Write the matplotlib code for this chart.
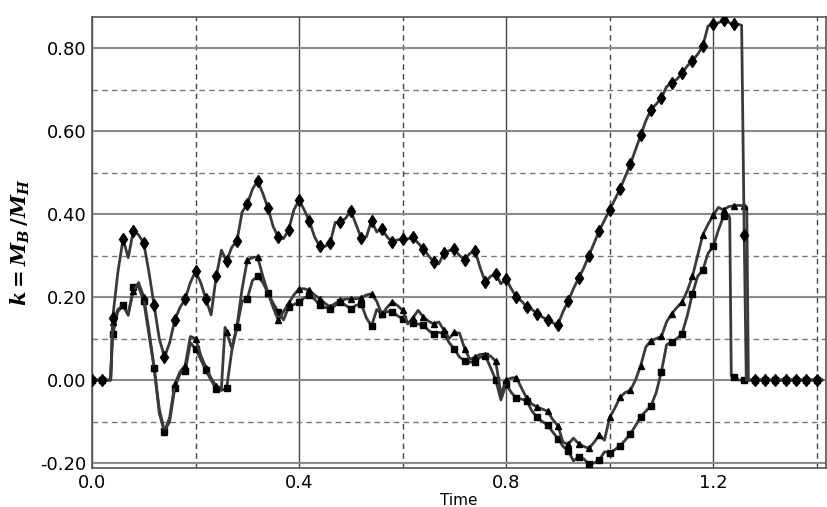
import numpy as np
import matplotlib
matplotlib.use("Agg")
import matplotlib.pyplot as plt
from matplotlib.ticker import MultipleLocator, FormatStrFormatter

# ----------------------------
# Data (time, k)
# ----------------------------

t_grid = [round(0.01 * i, 2) for i in range(142)]

# diamond series (top curve)
dia_t = t_grid[:4] + [0.036] + t_grid[4:126] + [1.255, 1.26, 1.264] + t_grid[127:]
dia_k = [0, 0, 0, 0, 0,
         0.15, 0.26, 0.34, 0.295, 0.36, 0.35, 0.33, 0.26, 0.18, 0.10,
         0.055, 0.09, 0.145, 0.175, 0.195, 0.235, 0.262, 0.235, 0.195, 0.157,
         0.25, 0.313, 0.287, 0.32, 0.335, 0.405, 0.424, 0.46, 0.48, 0.45,
         0.414, 0.37, 0.344, 0.341, 0.362, 0.41, 0.434, 0.41, 0.383, 0.345,
         0.322, 0.322, 0.33, 0.38, 0.38, 0.39, 0.408, 0.375, 0.343, 0.345,
         0.384, 0.357, 0.365, 0.345, 0.333, 0.338, 0.339, 0.34, 0.344, 0.33,
         0.317, 0.30, 0.285, 0.28, 0.306, 0.312, 0.315, 0.30, 0.29, 0.305,
         0.312, 0.27, 0.236, 0.25, 0.255, 0.232, 0.244, 0.22, 0.20, 0.19,
         0.176, 0.17, 0.16, 0.152, 0.144, 0.138, 0.133, 0.165, 0.19, 0.22,
         0.245, 0.27, 0.30, 0.33, 0.36, 0.385, 0.41, 0.435, 0.46, 0.49,
         0.52, 0.555, 0.59, 0.625, 0.652, 0.665, 0.68, 0.707, 0.716, 0.725,
         0.74, 0.757, 0.77, 0.785, 0.805, 0.853, 0.857, 0.861, 0.867, 0.862,
         0.857, 0.857,
         0.855, 0.35, 0.0] + [0] * 15

# triangle series
tri_t = t_grid[:4] + [0.036] + t_grid[4:26] + [0.257] + t_grid[26:127] + [1.265, 1.268] + t_grid[127:]
tri_k = [0, 0, 0, 0, 0,
         0.14, 0.17, 0.18, 0.16, 0.215, 0.235, 0.20, 0.12, 0.03, -0.08,
         -0.125, -0.09, -0.01, 0.02, 0.035, 0.105, 0.10, 0.06, 0.03, 0.005,
         -0.015, -0.02,
         0.127,
         0.115, 0.077, 0.13, 0.22, 0.289, 0.295, 0.297, 0.25, 0.21, 0.175,
         0.144, 0.165, 0.185, 0.205, 0.22, 0.22, 0.216, 0.205, 0.196, 0.185,
         0.176, 0.185, 0.192, 0.195, 0.196, 0.196, 0.198, 0.205, 0.208, 0.19,
         0.158, 0.175, 0.188, 0.18, 0.168, 0.135, 0.15, 0.168, 0.152, 0.142,
         0.135, 0.14, 0.12, 0.10, 0.115, 0.113, 0.075, 0.05, 0.055, 0.062,
         0.06, 0.058, 0.045, -0.035, 0.0, 0.005, 0.006, -0.02, -0.044, -0.058,
         -0.065, -0.07, -0.075, -0.095, -0.11, -0.15, -0.155, -0.14, -0.153, -0.16,
         -0.165, -0.15, -0.133, -0.145, -0.09, -0.068, -0.042, -0.03, -0.025, 0.0,
         0.035, 0.08, 0.095, 0.10, 0.105, 0.14, 0.16, 0.175, 0.188, 0.215,
         0.25, 0.30, 0.35, 0.375, 0.397, 0.416, 0.41, 0.418, 0.42, 0.421,
         0.42,
         0.417, 0.0] + [0] * 15

# square series
sq_t = t_grid[:4] + [0.036] + t_grid[4:124] + [1.232, 1.235] + t_grid[124:]
sq_k = [0, 0, 0, 0, 0,
        0.11, 0.165, 0.18, 0.156, 0.225, 0.225, 0.19, 0.11, 0.03, -0.07,
        -0.123, -0.10, -0.018, 0.015, 0.022, 0.09, 0.075, 0.05, 0.023, 0.0,
        -0.022, -0.025, -0.02, 0.07, 0.127, 0.19, 0.196, 0.24, 0.25, 0.235,
        0.21, 0.185, 0.164, 0.145, 0.176, 0.182, 0.188, 0.198, 0.204, 0.195,
        0.18, 0.175, 0.172, 0.18, 0.188, 0.18, 0.172, 0.18, 0.184, 0.15,
        0.13, 0.17, 0.16, 0.165, 0.165, 0.155, 0.148, 0.14, 0.137, 0.135,
        0.132, 0.12, 0.11, 0.115, 0.112, 0.09, 0.075, 0.055, 0.047, 0.043,
        0.044, 0.055, 0.058, 0.03, 0.0, -0.048, -0.01, -0.03, -0.044, -0.046,
        -0.05, -0.075, -0.09, -0.10, -0.108, -0.125, -0.141, -0.16, -0.17, -0.195,
        -0.185, -0.19, -0.203, -0.20, -0.193, -0.173, -0.175, -0.168, -0.158, -0.145,
        -0.13, -0.11, -0.088, -0.075, -0.062, -0.03, 0.02, 0.085, 0.092, 0.10,
        0.112, 0.155, 0.208, 0.25, 0.265, 0.305, 0.322, 0.361, 0.395, 0.397,
        0.39, 0.01,
        0.008] + [0] * 17

# ----------------------------
# Plot
# ----------------------------

plt.rcParams['mathtext.fontset'] = 'custom'
plt.rcParams['mathtext.it'] = 'DejaVu Serif:italic:bold'
plt.rcParams['mathtext.rm'] = 'DejaVu Serif:bold'

def marker_idx(tv):
    # a marker every 0.02 in time
    return [i for i, v in enumerate(tv) if abs(v * 50 - round(v * 50)) < 1e-6]

fig = plt.figure(figsize=(8.27, 5.07), dpi=100)
ax = fig.add_axes([92/827, 39/507, 734/827, 451/507])

line_col = '#3a3a3a'
ax.plot(sq_t, sq_k, color=line_col, lw=2, marker='s', ms=4.5, mfc='black', mec='black',
        markevery=marker_idx(sq_t), zorder=3)
ax.plot(tri_t, tri_k, color=line_col, lw=2, marker='^', ms=4.5, mfc='black', mec='black',
        markevery=marker_idx(tri_t), zorder=3)
ax.plot(dia_t, dia_k, color=line_col, lw=2, marker='d', ms=6.5, mfc='black', mec='black',
        markevery=marker_idx(dia_t), zorder=4)

ax.set_xlim(0, 1.418)
ax.set_ylim(-0.212, 0.875)

ax.xaxis.set_major_locator(MultipleLocator(0.4))
ax.xaxis.set_minor_locator(MultipleLocator(0.2))
ax.yaxis.set_major_locator(MultipleLocator(0.2))
ax.yaxis.set_minor_locator(MultipleLocator(0.1))
ax.xaxis.set_major_formatter(FormatStrFormatter('%.1f'))
ax.yaxis.set_major_formatter(FormatStrFormatter('%.2f'))

ax.xaxis.grid(True, which='major', color='#444444', lw=1.0, ls='-')
ax.xaxis.grid(True, which='minor', color='#444444', lw=1.0, ls=(0, (4, 3)))
ax.yaxis.grid(True, which='major', color='#8a8a8a', lw=1.5, ls='-')
ax.yaxis.grid(True, which='minor', color='#777777', lw=1.0, ls=(0, (4, 3)))
ax.set_axisbelow(True)

ax.tick_params(which='both', length=0, labelsize=13, pad=4)
for s in ax.spines.values():
    s.set_color('#555555')
    s.set_linewidth(1.2)

ax.set_xlabel('Time', fontsize=11, labelpad=1)
ax.set_ylabel(r'$k=M_{B}\,/M_{H}$', fontsize=15, labelpad=6)

plt.savefig('out.png', dpi=100)
